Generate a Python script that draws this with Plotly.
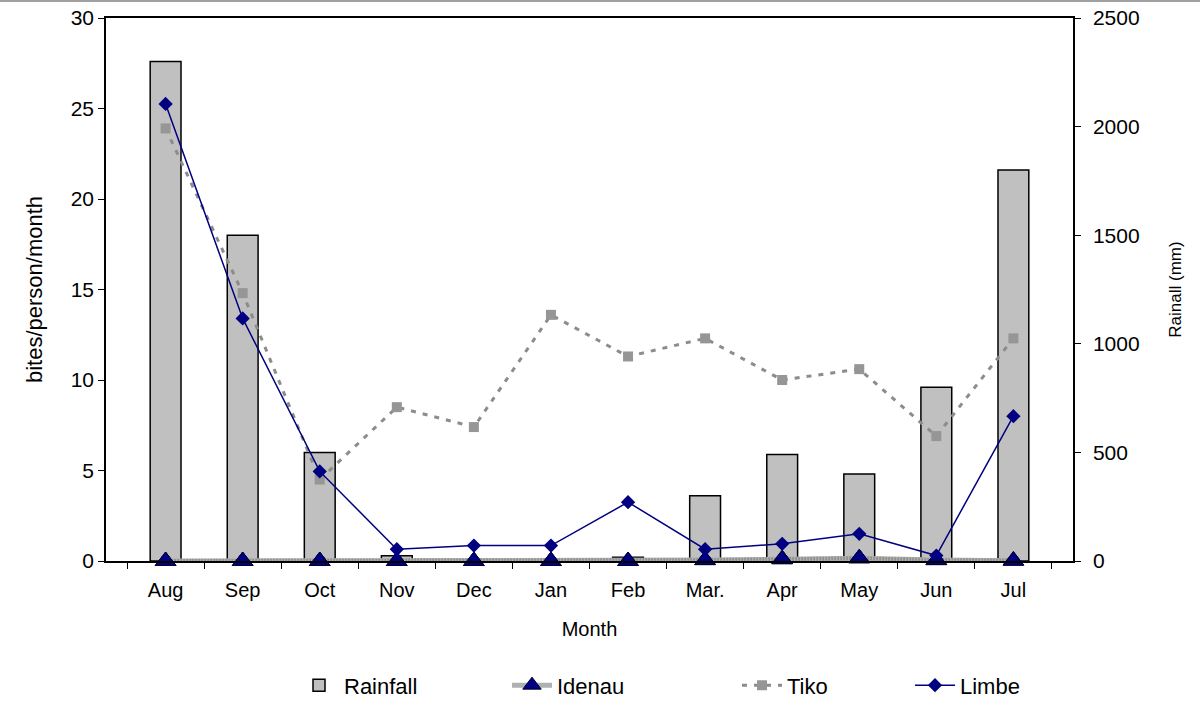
import plotly.graph_objects as go

months = ["Aug", "Sep", "Oct", "Nov", "Dec", "Jan", "Feb", "Mar.", "Apr", "May", "Jun", "Jul"]
rainfall = [2300, 1500, 500, 24, 5, 5, 17, 300, 490, 400, 800, 1800]
idenau = [0, 0, 0, 0, 0, 0, 0, 0.05, 0.1, 0.15, 0.05, 0.02]
tiko = [23.9, 14.8, 4.5, 8.5, 7.4, 13.6, 11.3, 12.3, 10.0, 10.6, 6.9, 12.3]
limbe = [25.25, 13.4, 4.95, 0.65, 0.85, 0.85, 3.25, 0.65, 0.95, 1.5, 0.3, 8.0]

FONT = "Liberation Sans, Arial, sans-serif"
TRI = dict(symbol="triangle-up", size=18, color="#000080",
           line=dict(color="#000033", width=1))

fig = go.Figure()
fig.add_trace(go.Bar(
    x=months, y=rainfall, name="Rainfall", yaxis="y", legend="legend",
    marker=dict(color="#c0c0c0", line=dict(color="#000000", width=1.5)),
    width=0.4,
))
fig.add_trace(go.Scatter(
    x=months, y=idenau, name="Idenau", yaxis="y2", mode="lines+markers",
    legend="legend2", cliponaxis=False,
    line=dict(color="#b0b0b0", width=5),
    marker=TRI,
))
# hatch-like overlay for the Idenau line
fig.add_trace(go.Scatter(
    x=months, y=idenau, yaxis="y2", mode="lines", showlegend=False,
    hoverinfo="skip", cliponaxis=False,
    line=dict(color="#7a7a7a", width=4, dash="1px,2px"),
))
fig.add_trace(go.Scatter(
    x=months, y=idenau, yaxis="y2", mode="markers", showlegend=False,
    hoverinfo="skip", marker=TRI, cliponaxis=False,
))
fig.add_trace(go.Scatter(
    x=months, y=tiko, name="Tiko", yaxis="y2", mode="lines+markers",
    legend="legend3",
    line=dict(color="#8c8c8c", width=3, dash="5px,7px"),
    marker=dict(symbol="square", size=10, color="#969696"),
))
fig.add_trace(go.Scatter(
    x=months, y=limbe, name="Limbe", yaxis="y2", mode="lines+markers",
    legend="legend4", cliponaxis=False,
    line=dict(color="#000080", width=1.5),
    marker=dict(symbol="diamond", size=11, color="#000080"),
))

PW = 967.0
def lx(text_px):
    return (text_px - 48 - 106) / PW

LEG = dict(orientation="h", y=-0.229, yanchor="middle", xanchor="left",
           font=dict(size=22), itemwidth=40, bgcolor="rgba(0,0,0,0)")

fig.update_layout(
    width=1200, height=720,
    margin=dict(l=106, r=127, t=18, b=159, autoexpand=False),
    paper_bgcolor="white", plot_bgcolor="white",
    font=dict(family=FONT, size=20, color="black"),
    xaxis=dict(
        type="category", showline=True, linecolor="black", linewidth=1.5,
        mirror=True, ticks="outside", tickson="boundaries", ticklen=6,
        tickcolor="black", showgrid=False, automargin=False,
        tickfont=dict(size=20), ticklabelstandoff=10,
        title=dict(text="Month", font=dict(size=20), standoff=22),
    ),
    yaxis=dict(
        side="right", range=[0, 2500], dtick=500, showgrid=False,
        showline=True, linecolor="black", linewidth=1.5, automargin=False,
        ticks="outside", ticklen=6, tickcolor="black", ticklabelstandoff=8,
        tickfont=dict(size=21), zeroline=False,
        title=dict(text="Rainall (mm)", font=dict(size=17), standoff=30),
    ),
    yaxis2=dict(
        side="left", overlaying="y", range=[0, 30], dtick=5, showgrid=False,
        showline=True, linecolor="black", linewidth=1.5, automargin=False,
        ticks="outside", ticklen=6, tickcolor="black",
        tickfont=dict(size=21), zeroline=False,
        title=dict(text="bites/person/month", font=dict(size=22), standoff=22),
    ),
    legend=dict(LEG, x=lx(342)),
    legend2=dict(LEG, x=lx(555)),
    legend3=dict(LEG, x=lx(785)),
    legend4=dict(LEG, x=lx(958)),
    showlegend=True,
)

fig.add_shape(type="line", xref="paper", yref="paper", x0=-0.2, x1=1.2,
              y0=1 + 17 / 543, y1=1 + 17 / 543,
              line=dict(color="#a0a0a0", width=2))

fig.write_html(
    "out.html",
    config={"displayModeBar": False},
    post_script="document.body.style.margin='0';document.body.style.overflow='hidden';",
)
